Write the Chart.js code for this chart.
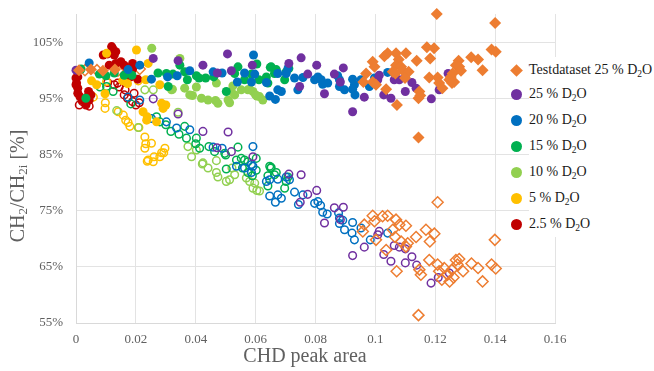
<!DOCTYPE html>
<html>
<head>
<meta charset="utf-8">
<script src="https://cdn.jsdelivr.net/npm/chart.js@4.4.1/dist/chart.umd.min.js"></script>
<style>
  body { margin: 0; background: #fff; }
  #wrap { position: relative; width: 654px; height: 371px; }
  #legend { position: absolute; left: 504px; top: 59px; font-family: "Liberation Serif", serif; font-size: 14px; color: #1a1a1a; }
  #legend .row { display: flex; align-items: center; height: 26px; }
  #legend .row:first-child { height: 22px; }
  #legend .mk { width: 25px; display: flex; justify-content: center; }
  #legend .txt { background: #fff; padding-right: 14px; line-height: 26px; white-space: nowrap; }
  #legend sub { font-size: 0.68em; vertical-align: -0.3em; line-height: 0; }
</style>
</head>
<body>
<div id="wrap">
  <canvas id="myChart" width="654" height="371"></canvas>
  <div id="legend"></div>
</div>
<script>
// series names (legend order) and colours
const seriesNames = ["Testdataset 25 % D2O", "25 % D2O", "20 % D2O", "15 % D2O", "10 % D2O", "5 % D2O", "2.5 % D2O"];
const seriesColors = ["#ed7d31", "#7030a0", "#0070c0", "#00b050", "#92d050", "#ffc000", "#c00000"];

const xTicks = [0, 0.02, 0.04, 0.06, 0.08, 0.1, 0.12, 0.14, 0.16];
const yTicks = [55, 65, 75, 85, 95, 105];

// [CHD peak area, CH2/CH2i %]  filled = legend series, open = second set
const testFilled = [[0.1205,110],[0.14,108.4],[0.1172,104.1],[0.1196,103.9],[0.1388,103.7],[0.1402,103.3],[0.132,102.3],[0.1343,101.9],[0.1358,100],[0.1278,101.7],[0.1269,100.9],[0.128,100.6],[0.1286,99.9],[0.1258,99.4],[0.1252,98.8],[0.1247,98.3],[0.1263,97.9],[0.1256,97.7],[0.1213,97.7],[0.1224,96.8],[0.118,98.7],[0.1208,98.7],[0.1138,101.7],[0.1183,102.1],[0.1144,88],[0.1147,96.2],[0.115,95.5],[0.1144,95],[0.1072,93.8],[0.1102,103],[0.1069,103],[0.1041,103],[0.103,102.5],[0.0991,101.5],[0.0997,100.6],[0.1078,101.9],[0.1069,100.9],[0.1086,100.6],[0.1058,99.7],[0.1091,100],[0.1111,99.7],[0.1067,99.4],[0.1099,98.6],[0.0969,99.4],[0.096,97.9],[0.0991,97.9],[0.1002,97.4],[0.1036,96.6],[0.001,100],[0.005,100.1],[0.009,99.9],[0.013,100.1]];
const testOpen = [[0.1208,76.5],[0.1399,69.8],[0.0991,74.1],[0.0963,72.5],[0.0958,71.3],[0.0997,73.1],[0.1024,74],[0.1041,74.1],[0.1069,73.4],[0.108,72.5],[0.1058,71.6],[0.1102,72.3],[0.1066,70.3],[0.1086,69.5],[0.1102,68.6],[0.1036,68],[0.1002,69.8],[0.1136,70.3],[0.1169,71.6],[0.1197,70.9],[0.1182,69.5],[0.1108,69.2],[0.118,66.2],[0.1208,65.4],[0.123,64.8],[0.1222,62.7],[0.1241,63.6],[0.1256,64.5],[0.1269,66.2],[0.128,66.4],[0.1274,65.4],[0.1293,64.2],[0.1261,63.1],[0.1248,62.4],[0.1321,65.6],[0.1343,64.8],[0.1358,62.4],[0.1388,65.4],[0.1402,64.7],[0.1144,56.4],[0.1071,64.2],[0.1147,64.5],[0.1152,63.6],[0.1213,64.2],[0.003,100],[0.007,100],[0.011,100],[0.014,99.9],[0.0213,100.2]];

const d25Filled = [[0,100],[0.0258,102.1],[0.0341,101.7],[0.0424,100.9],[0.0506,102.9],[0.0472,99.5],[0.0519,99.9],[0.0589,100.9],[0.0711,101.2],[0.0752,102.2],[0.0804,100.9],[0.0893,100.4],[0.0774,99.3],[0.0863,99.3],[0.0747,97.1],[0.083,95.8],[0.0883,97.9],[0.0924,92.6],[0.0963,95.2],[0.1013,99.1],[0.1008,98.3],[0.1028,95.6],[0.1052,95],[0.1063,98.3],[0.108,98.3],[0.11,98.7],[0.1122,97.8],[0.1136,96.8],[0.11,96.2],[0.1187,94.9],[0.1213,96.5],[0.1243,99.4]];
const d25Open = [[0.0258,94.9],[0.0341,92.2],[0.0424,89.1],[0.0508,89],[0.0519,85.5],[0.0591,84.6],[0.0471,86.2],[0.0752,81.4],[0.0711,81.5],[0.0804,78.6],[0.0774,77.9],[0.0749,76.5],[0.0863,75.5],[0.0893,75.6],[0.0883,73.4],[0.083,72.8],[0.1013,71.3],[0.1008,70.7],[0.0963,68.5],[0.0924,67],[0.1028,67.2],[0.1052,66],[0.1063,68.8],[0.108,68.5],[0.11,68.2],[0.1122,66.8],[0.11,65.7],[0.1138,65.3],[0.1186,62.1],[0.121,63.1],[0.1247,63.9]];

const d20Filled = [[0.0044,101.3],[0.0174,100.1],[0.0213,100.9],[0.0252,98.4],[0.0306,98.8],[0.0338,99],[0.038,99.9],[0.0458,99.7],[0.0488,99.5],[0.0563,99.5],[0.0593,102.7],[0.0539,97.9],[0.0586,97.9],[0.0597,99.3],[0.0636,97.8],[0.0647,95.4],[0.0666,94.8],[0.0674,96.5],[0.0686,96.2],[0.0674,99.4],[0.0702,99.4],[0.0708,100.3],[0.073,98.6],[0.0758,98.7],[0.0741,96.5],[0.0797,98.3],[0.0808,98.8],[0.0819,98.3],[0.0824,97.5],[0.0841,97.7],[0.0874,99],[0.088,98.3],[0.088,97.1],[0.0897,96.5],[0.0924,98.4],[0.093,97.4],[0.0924,96.6],[0.0932,95.6],[0.0952,98.3],[0.098,97.1],[0.1041,99.6],[0.0997,98.6]];
const d20Open = [[0.0174,95.2],[0.0213,94.7],[0.0252,91.4],[0.0302,90.8],[0.0336,89.7],[0.038,89.4],[0.0458,86.3],[0.0488,86.1],[0.0591,86.4],[0.0586,83.2],[0.0563,82.6],[0.0536,82.9],[0.0591,82.9],[0.0586,81.8],[0.0636,80.2],[0.0647,80.5],[0.0674,80.6],[0.0647,77.6],[0.0666,76.5],[0.0674,77.8],[0.0686,77.2],[0.0702,81],[0.0713,80.5],[0.073,78.3],[0.0758,77.8],[0.0743,76.1],[0.0797,76.3],[0.0808,76.6],[0.0817,75.9],[0.0824,74.7],[0.0839,74.4],[0.0877,74.6],[0.088,73.7],[0.0891,73.3],[0.088,72.7],[0.0897,71.6],[0.0924,72.9],[0.0922,71],[0.093,69.8],[0.0952,71.9],[0.0983,69.8],[0.1041,71]];

const d15Filled = [[0.0017,100.2],[0.0033,95],[0.0078,99.3],[0.01,99],[0.0128,99.5],[0.0161,99.1],[0.0187,99.1],[0.0274,99.5],[0.0302,99.4],[0.0308,97.1],[0.0324,99.3],[0.0347,100.9],[0.0363,99.7],[0.0372,98.3],[0.0402,99],[0.0411,98.6],[0.0433,98.6],[0.046,98.8],[0.0502,96.2],[0.053,99.4],[0.0541,100.6],[0.0563,98.3],[0.0586,99.3],[0.0604,101.1],[0.0611,98.3],[0.0649,100.5],[0.0652,100.6],[0.0669,100.1],[0.0663,99.4],[0.0636,98.8],[0.0641,97.7],[0.0697,98.3],[0.0702,99.7],[0.0711,100.3]];
const d15Open = [[0.008,97],[0.0102,97.1],[0.0124,96.2],[0.0183,94],[0.0269,91.7],[0.028,90.8],[0.03,90.3],[0.0317,89.1],[0.0344,88.6],[0.0363,90],[0.0369,87.9],[0.0402,87.9],[0.04,86.9],[0.0413,86.1],[0.0444,86.4],[0.0463,85.5],[0.05,84.9],[0.0541,86.3],[0.0552,84.3],[0.0574,83.7],[0.0602,84.3],[0.0647,82.9],[0.0497,85.2],[0.0502,82.4],[0.0536,84],[0.0563,84],[0.0556,82.6],[0.0574,81.8],[0.0602,82.2],[0.0589,81.2],[0.065,82.6],[0.0663,81.4],[0.0641,81.2],[0.0641,79.4],[0.0652,82.7],[0.0669,81.8],[0.0702,80.2],[0.0697,79],[0.0708,81]];

const d10Filled = [[0.0253,103.9],[0.0347,102.1],[0.0322,96.6],[0.0319,96.5],[0.0363,96.8],[0.0389,95.5],[0.0402,97],[0.038,95.6],[0.0419,95],[0.0441,94.7],[0.0466,94.6],[0.0474,94.1],[0.0469,97.7],[0.0508,94.7],[0.0513,94.2],[0.0519,96.2],[0.053,95.6],[0.0524,97.2],[0.0552,96.5],[0.0574,96.5],[0.058,96.6],[0.0591,96.2],[0.06,95.6],[0.0613,95.3],[0.0624,94.7],[0.0604,95.4]];
const d10Open = [[0.0136,92.8],[0.0208,89.8],[0.023,96.5],[0.0258,96.5],[0.0341,92.5],[0.0374,86.4],[0.0402,85.8],[0.0424,83.5],[0.0386,84.6],[0.0422,83.3],[0.0441,82.6],[0.0469,83.9],[0.0469,81.8],[0.0474,81],[0.0502,80.2],[0.0513,80.5],[0.053,81.4],[0.0521,82.6],[0.0569,80.8],[0.058,80.2],[0.0597,79.9],[0.0591,79],[0.0604,78.6],[0.0613,78.5]];

const d5Filled = [[0.0202,103.6],[0.0102,103],[0.0052,98.1],[0.0069,97.4],[0.0097,95.8],[0.0241,101.2],[0.0233,98.3],[0.0224,92.6],[0.0238,91.7],[0.0236,91.1],[0.0269,90.8],[0.0286,94.1],[0.0291,93.2],[0.03,93.8],[0.028,97.4],[0.0156,98.1],[0.0172,97.6]];
const d5Open = [[0.0058,95.2],[0.0097,93.2],[0.0141,92.6],[0.0158,92],[0.0166,91.1],[0.0174,90.7],[0.018,90],[0.021,89.8],[0.023,88.1],[0.0233,86.9],[0.0252,87],[0.023,86.1],[0.0297,86.1],[0.0286,85.3],[0.028,84.6],[0.0241,84],[0.0258,83.7],[0.0208,98.1],[0.0102,98],[0.0098,94.2],[0.0238,83.8],[0.0261,84.6],[0.0293,85.3]];

const d2Filled = [[0.0122,103.9],[0.0133,103.3],[0.0128,102.7],[0.0091,102.7],[0.0106,102.9],[0.0119,104.2],[0,98.6],[0,97.4],[0.0006,98.8],[0.0002,97.7],[0.0006,96.8],[0.0006,95.9],[0.0013,95.3],[0.002,94.7],[0.0028,94.6],[0.0033,94],[0.0039,95.3],[0.0042,96.2],[0.005,95.6],[0.0044,94.7],[0.0111,100.9],[0.0133,101.2],[0.015,101.5],[0.0161,100.9],[0.0172,100.3],[0.0189,101.2],[0.0189,100.2],[0.0164,99.1],[0.0183,98.8],[0.0206,98.4]];
const d2Open = [[0.0033,93.8],[0.0044,93.6],[0.0022,94.4],[0.0011,93.8],[0.0106,97.8],[0.0128,97.4],[0.0139,97.7],[0.0144,97],[0.0164,96.5],[0.0161,95.6],[0.0194,95.9],[0.0172,95],[0.0189,94.4],[0.02,93.8],[0.0211,94.2]];

const filledSets = [testFilled, d25Filled, d20Filled, d15Filled, d10Filled, d5Filled, d2Filled];
const openSets = [testOpen, d25Open, d20Open, d15Open, d10Open, d5Open, d2Open];

const serif = "Liberation Serif, serif";
const grey = "#606060";
Chart.defaults.font.family = serif;

function toPts(arr) { return arr.map(p => ({ x: p[0], y: p[1] })); }

const datasets = [];
filledSets.forEach((s, i) => {
  const diamond = i === 0;
  datasets.push({
    label: seriesNames[i],
    data: toPts(s),
    pointStyle: diamond ? "rectRot" : "circle",
    pointRadius: diamond ? 6 : 4.5,
    backgroundColor: seriesColors[i],
    borderColor: seriesColors[i],
    borderWidth: 0,
    clip: false
  });
});
openSets.forEach((s, i) => {
  const diamond = i === 0;
  datasets.push({
    label: seriesNames[i] + " (open)",
    data: toPts(s),
    pointStyle: diamond ? "rectRot" : "circle",
    pointRadius: diamond ? 5.5 : 3.8,
    backgroundColor: "rgba(255,255,255,0)",
    borderColor: seriesColors[i],
    borderWidth: 1.5,
    clip: false
  });
});

// axis titles with real subscripts
function richText(ctx, parts, size) {
  let w = 0;
  parts.forEach(p => {
    ctx.font = (p[1] ? size * 0.65 : size) + "px " + serif;
    w += ctx.measureText(p[0]).width;
  });
  let x = -w / 2;
  parts.forEach(p => {
    ctx.font = (p[1] ? size * 0.65 : size) + "px " + serif;
    ctx.fillText(p[0], x, p[1] ? size * 0.22 : 0);
    x += ctx.measureText(p[0]).width;
  });
}

const titlePlugin = {
  id: "titles",
  afterDraw(chart) {
    const ctx = chart.ctx;
    ctx.save();
    ctx.fillStyle = grey;
    ctx.textBaseline = "middle";
    ctx.textAlign = "left";
    ctx.translate(305, 357);
    richText(ctx, [["CHD peak area", 0]], 20);
    ctx.restore();

    ctx.save();
    ctx.fillStyle = grey;
    ctx.textBaseline = "middle";
    ctx.textAlign = "left";
    ctx.translate(19, 186);
    ctx.rotate(-Math.PI / 2);
    richText(ctx, [["CH", 0], ["2", 1], ["/CH", 0], ["2i", 1], [" [%]", 0]], 20);
    ctx.restore();
  }
};

const ctx = document.getElementById("myChart").getContext("2d");
new Chart(ctx, {
  type: "scatter",
  data: { datasets: datasets },
  options: {
    responsive: false,
    animation: false,
    events: [],
    layout: { padding: { top: 14, right: 99, left: 0, bottom: 0 } },
    plugins: { legend: { display: false }, tooltip: { enabled: false } },
    scales: {
      x: {
        type: "linear",
        min: 0,
        max: 0.16,
        afterBuildTicks: s => { s.ticks = xTicks.map(v => ({ value: v })); },
        afterFit: s => { s.height = 48; s.paddingLeft = 0; s.paddingRight = 0; },
        grid: { color: "#e3e3e3", drawTicks: false },
        border: { color: "#d9d9d9" },
        ticks: {
          padding: 9,
          color: grey,
          font: { family: serif, size: 13 },
          callback: v => String(+v.toFixed(2))
        }
      },
      y: {
        min: 55,
        max: 110,
        afterBuildTicks: s => { s.ticks = yTicks.map(v => ({ value: v })); },
        afterFit: s => { s.width = 76; s.paddingTop = 0; s.paddingBottom = 0; },
        grid: { color: "#e3e3e3", drawTicks: false },
        border: { color: "#d9d9d9" },
        ticks: {
          padding: 13,
          color: grey,
          font: { family: serif, size: 13 },
          callback: v => v + "%"
        }
      }
    }
  },
  plugins: [titlePlugin]
});

// legend
const legendEl = document.getElementById("legend");
seriesNames.forEach((name, i) => {
  const row = document.createElement("div");
  row.className = "row";
  const mk = document.createElement("div");
  mk.className = "mk";
  const dot = document.createElement("span");
  if (i === 0) {
    dot.style.cssText = "width:9px;height:9px;background:" + seriesColors[i] + ";transform:rotate(45deg);display:block";
  } else {
    dot.style.cssText = "width:11px;height:11px;border-radius:50%;background:" + seriesColors[i] + ";display:block";
  }
  mk.appendChild(dot);
  const txt = document.createElement("span");
  txt.className = "txt";
  txt.innerHTML = name.replace("D2O", "D<sub>2</sub>O");
  row.appendChild(mk);
  row.appendChild(txt);
  legendEl.appendChild(row);
});
</script>
</body>
</html>
